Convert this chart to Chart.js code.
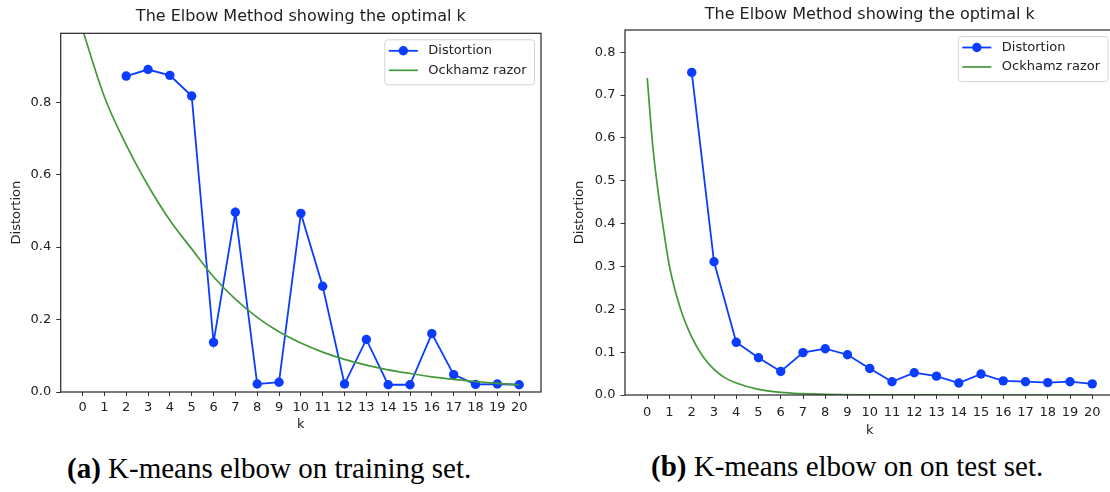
<!DOCTYPE html>
<html>
<head>
<meta charset="utf-8">
<script src="https://cdn.jsdelivr.net/npm/chart.js@4.4.0/dist/chart.umd.min.js"></script>
<style>
  html, body { margin: 0; padding: 0; background: #fff; width: 1110px; height: 492px; overflow: hidden; position: relative; }
  .box { position: absolute; top: 0; }
  #left { left: 0; }
  #right { left: 560px; }
  .caption { position: absolute; font-family: "Liberation Serif", "Times New Roman", serif; font-size: 29px; line-height: 32px; color: #000; white-space: nowrap; }
  #capA { left: 67px; top: 452px; }
  #capB { left: 651px; top: 450px; }
</style>
</head>
<body>
<div class="box" id="left"><canvas id="chartTrain" width="555" height="440"></canvas></div>
<div class="box" id="right"><canvas id="chartTest" width="560" height="440"></canvas></div>
<div class="caption" id="capA"><b>(a)</b> K-means elbow on training set.</div>
<div class="caption" id="capB"><b>(b)</b> K-means elbow on on test set.</div>

<script>
// x axis ticks (k) shared by both panels
const kTicks = [0, 1, 2, 3, 4, 5, 6, 7, 8, 9, 10, 11, 12, 13, 14, 15, 16, 17, 18, 19, 20];
const yTicksTrain = [0, 0.2, 0.4, 0.6, 0.8];
const yTicksTest = [0, 0.1, 0.2, 0.3, 0.4, 0.5, 0.6, 0.7, 0.8];

// (a) training set
const trainK = [2, 3, 4, 5, 6, 7, 8, 9, 10, 11, 12, 13, 14, 15, 16, 17, 18, 19, 20];
const trainDistortion = [0.872, 0.89, 0.874, 0.817, 0.137, 0.496, 0.022, 0.027, 0.493, 0.292,
  0.022, 0.145, 0.02, 0.02, 0.161, 0.048, 0.021, 0.022, 0.02];
const trainRazorK = [0, 1, 2, 3, 4, 5, 6, 7, 8, 9, 10, 11, 12, 13, 14, 15, 16, 17, 18, 19, 20];
const trainRazor = [1.0, 0.815, 0.682, 0.57, 0.474, 0.395, 0.318, 0.256, 0.206, 0.166, 0.135,
  0.11, 0.09, 0.074, 0.061, 0.051, 0.042, 0.035, 0.029, 0.024, 0.02];

// (b) test set
const testK = [2, 3, 4, 5, 6, 7, 8, 9, 10, 11, 12, 13, 14, 15, 16, 17, 18, 19, 20];
const testDistortion = [0.753, 0.311, 0.123, 0.087, 0.055, 0.099, 0.108, 0.094, 0.062, 0.031,
  0.052, 0.044, 0.028, 0.049, 0.033, 0.031, 0.029, 0.031, 0.026];
const testRazorK = [0, 0.25, 0.5, 0.75, 1, 1.5, 2, 2.5, 3, 3.5, 4, 5, 6, 7, 8, 10, 12, 15, 20];
const testRazor = [0.74, 0.58, 0.47, 0.38, 0.30, 0.2, 0.135, 0.09, 0.06, 0.04, 0.028, 0.013,
  0.006, 0.003, 0.0015, 0.0005, 0.0001, 0, 0];

const BLUE = "#0a3dff";
const GREEN = "#43993a";
const TEXT = "#222";
const FONT = "'DejaVu Sans', sans-serif";

// axes frame + matplotlib style legend inside the plot
const frameAndLegend = {
  id: "frameAndLegend",
  afterDraw(chart) {
    const { ctx, chartArea: a } = chart;
    ctx.save();
    ctx.strokeStyle = "#262626";
    ctx.lineWidth = 1.2;
    ctx.strokeRect(a.left, a.top, a.right - a.left, a.bottom - a.top);

    ctx.font = "13px " + FONT;
    const items = chart.data.datasets;
    const textW = Math.max(...items.map((d) => ctx.measureText(d.label).width));
    const w = 43.5 + textW + 8;
    const h = 45;
    const x = a.right - 6.5 - w;
    const y = a.top + 6.5;
    ctx.beginPath();
    ctx.roundRect(x, y, w, h, 3);
    ctx.fillStyle = "rgba(255,255,255,0.8)";
    ctx.fill();
    ctx.strokeStyle = "#d4d4d4";
    ctx.lineWidth = 1;
    ctx.stroke();

    items.forEach((d, i) => {
      const cy = y + 11 + i * 19.5;
      ctx.strokeStyle = d.borderColor;
      ctx.lineWidth = d.borderWidth;
      ctx.beginPath();
      ctx.moveTo(x + 4, cy);
      ctx.lineTo(x + 33, cy);
      ctx.stroke();
      if (d.pointRadius > 0) {
        ctx.fillStyle = d.pointBackgroundColor;
        ctx.beginPath();
        ctx.arc(x + 18.5, cy, d.pointRadius, 0, Math.PI * 2);
        ctx.fill();
      }
      ctx.fillStyle = TEXT;
      ctx.textBaseline = "middle";
      ctx.textAlign = "left";
      ctx.fillText(d.label, x + 43.5, cy);
    });
    ctx.restore();
  },
};

function makeChart(id, p) {
  const distortion = p.k.map((k, i) => ({ x: k, y: p.distortion[i] }));
  const razor = p.razorK.map((k, i) => ({ x: k, y: p.razor[i] }));

  return new Chart(document.getElementById(id).getContext("2d"), {
    type: "line",
    data: {
      datasets: [
        {
          label: "Distortion",
          data: distortion,
          borderColor: BLUE,
          backgroundColor: BLUE,
          borderWidth: 1.8,
          pointRadius: 4.7,
          pointBackgroundColor: BLUE,
          pointBorderWidth: 0,
          tension: 0,
          order: 1,
        },
        {
          label: "Ockhamz razor",
          data: razor,
          borderColor: GREEN,
          backgroundColor: GREEN,
          borderWidth: 1.7,
          pointRadius: 0,
          cubicInterpolationMode: "monotone",
          order: 0,
        },
      ],
    },
    plugins: [frameAndLegend],
    options: {
      responsive: false,
      devicePixelRatio: 1,
      animation: false,
      layout: { padding: { left: 0, right: p.padRight, top: 0, bottom: 0 } },
      plugins: {
        legend: { display: false },
        tooltip: { enabled: false },
        title: {
          display: true,
          text: "The Elbow Method showing the optimal k",
          color: TEXT,
          font: { family: FONT, size: 16, weight: "normal" },
          padding: p.titlePad,
          fullSize: false,
        },
      },
      scales: {
        x: {
          type: "linear",
          min: -1,
          max: 21,
          afterBuildTicks: (scale) => { scale.ticks = kTicks.map((v) => ({ value: v })); },
          afterFit: (scale) => { scale.height = p.xHeight; },
          grid: { drawOnChartArea: false, drawTicks: true, tickLength: 4, color: "#333", tickWidth: 1 },
          border: { display: false },
          ticks: {
            color: TEXT,
            font: { family: FONT, size: 13 },
            padding: p.xTickPad,
            maxRotation: 0,
            autoSkip: false,
            callback: (v) => String(v),
          },
          title: { display: true, text: "k", color: TEXT, font: { family: FONT, size: 13 }, padding: { top: 0, bottom: p.xTitlePad } },
        },
        y: {
          type: "linear",
          min: 0,
          max: p.yMax,
          afterBuildTicks: (scale) => { scale.ticks = p.yTicks.map((v) => ({ value: v })); },
          afterFit: (scale) => { scale.width = p.yWidth; },
          grid: { drawOnChartArea: false, drawTicks: true, tickLength: 4.5, color: "#333", tickWidth: 1 },
          border: { display: false },
          ticks: {
            color: TEXT,
            font: { family: FONT, size: 13 },
            padding: 5,
            callback: (v) => v.toFixed(1),
          },
          title: { display: true, text: "Distortion", color: TEXT, font: { family: FONT, size: 13 }, padding: { top: p.yTitlePad, bottom: 0 } },
        },
      },
    },
  });
}

makeChart("chartTrain", {
  k: trainK, distortion: trainDistortion, razorK: trainRazorK, razor: trainRazor,
  yTicks: yTicksTrain, yMax: 0.99,
  padRight: 14, titlePad: { top: 7, bottom: 7.1 }, xHeight: 48, yWidth: 60.7,
  xTickPad: 4, xTitlePad: 7.2, yTitlePad: 9.2,
});

makeChart("chartTest", {
  k: testK, distortion: testDistortion, razorK: testRazorK, razor: testRazor,
  yTicks: yTicksTest, yMax: 0.852,
  padRight: 5.5, titlePad: { top: 5, bottom: 5.8 }, xHeight: 45, yWidth: 65,
  xTickPad: 6, xTitlePad: 1.2, yTitlePad: 12.2,
});
</script>
</body>
</html>
